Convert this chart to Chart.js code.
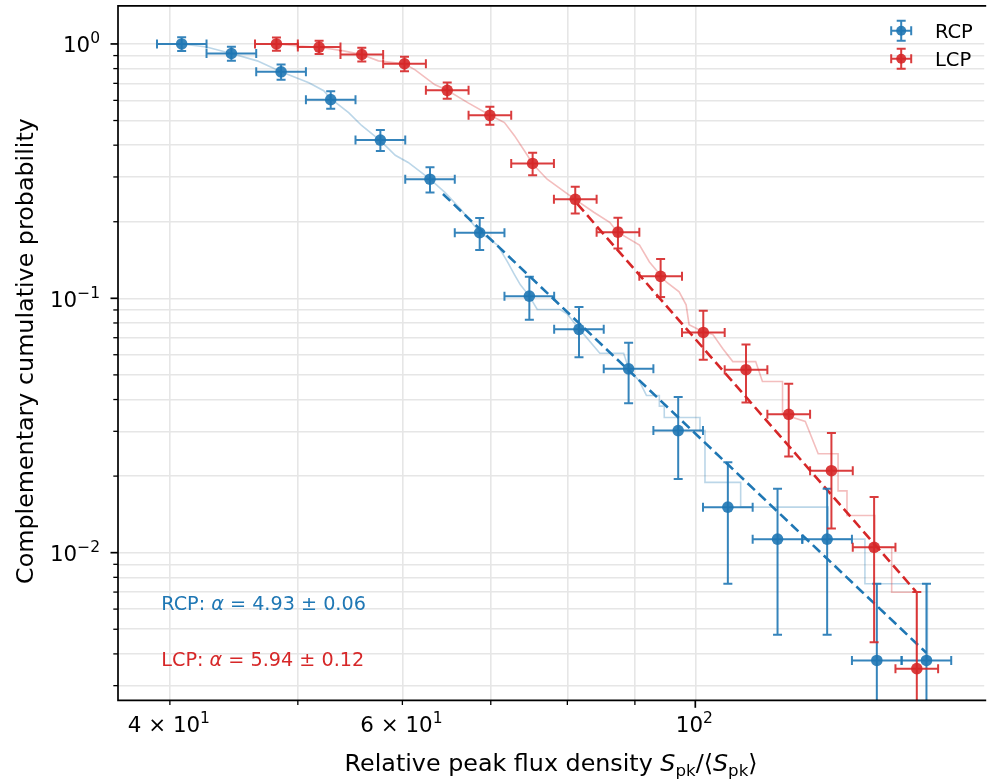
<!DOCTYPE html>
<html>
<head>
<meta charset="utf-8">
<script src="https://cdn.jsdelivr.net/npm/chart.js@4.4.1/dist/chart.umd.min.js"></script>
<style>
  html, body { margin: 0; padding: 0; background: #fff; overflow: hidden; }
  canvas { display: block; }
</style>
</head>
<body>
<canvas id="myChart"></canvas>
<script>
const FONT = 'DejaVu Sans';
const blue = 'rgba(31,119,180,0.9)';
const red = 'rgba(214,39,40,0.9)';

// axis limits
const xMin = 36.54, xMax = 165.5;
const yMin = 0.002628, yMax = 1.4125;

// tick positions and labels (base, exponent, optional mantissa)
const xTicks = [40, 50, 60, 70, 80, 90, 100];
const xLabelAt = [40, 60, 100];
const xLabelText = [['4 × 10', '1'], ['6 × 10', '1'], ['10', '2']];
const yTicks = [0.003, 0.004, 0.005, 0.006, 0.007, 0.008, 0.009,
                0.01, 0.02, 0.03, 0.04, 0.05, 0.06, 0.07, 0.08, 0.09,
                0.1, 0.2, 0.3, 0.4, 0.5, 0.6, 0.7, 0.8, 0.9, 1];
const yLabelAt = [1, 0.1, 0.01];
const yLabelText = [['10', '0'], ['10', '−1'], ['10', '−2']];

// RCP binned points
const rcpX = [40.83, 44.53, 48.56, 52.95, 57.74, 62.96, 68.66, 74.87, 81.64, 89.02, 97.06, 105.84, 115.42, 125.85, 137.24, 149.65];
const rcpEdges = [39.11, 42.64, 46.50, 50.71, 55.29, 60.30, 65.74, 71.69, 78.18, 85.24, 92.95, 101.35, 110.52, 120.51, 131.41, 143.30, 156.25];
const rcpY = [1.0, 0.917, 0.777, 0.604, 0.419, 0.294, 0.181, 0.102, 0.0755, 0.0528, 0.0302, 0.0151, 0.0113, 0.0113, 0.00377, 0.00377];
const rcpYErr = [0.0614, 0.0588, 0.0542, 0.0477, 0.0398, 0.0333, 0.0261, 0.0196, 0.0169, 0.0141, 0.0107, 0.00755, 0.00654, 0.00654, 0.00377, 0.00377];

// LCP binned points
const lcpX = [48.17, 51.89, 55.90, 60.22, 64.88, 69.89, 75.30, 81.11, 87.38, 94.13, 101.40, 109.24, 117.69, 126.79, 136.59, 147.15];
const lcpEdges = [46.40, 50.00, 53.86, 58.02, 62.51, 67.34, 72.54, 78.15, 84.19, 90.70, 97.71, 105.26, 113.39, 122.16, 131.60, 141.77, 152.72];
const lcpY = [1.0, 0.972, 0.909, 0.836, 0.657, 0.524, 0.339, 0.245, 0.182, 0.122, 0.0734, 0.0524, 0.0350, 0.0210, 0.0105, 0.0035];
const lcpYErr = [0.0591, 0.0583, 0.0564, 0.0541, 0.0479, 0.0428, 0.0344, 0.0293, 0.0252, 0.0207, 0.0160, 0.0135, 0.0111, 0.00856, 0.00606, 0.0035];

// empirical CCDF (light step lines)
const rcpStepX = [40.83, 42.64, 44.53, 46.58, 48.56, 50.97, 52.31, 52.95, 54.63, 55.88, 57.74, 59.26, 60.61, 62.96, 64.62, 66.43, 68.66, 70.83, 72.07, 72.95, 73.71, 74.87, 75.91, 78.99, 79.95, 81.64, 84.66, 88.25, 89.02, 90.73, 91.83, 93.92, 93.92, 94.73, 94.73, 100.82, 100.82, 101.70, 101.70, 108.23, 108.23, 126.07, 126.07, 134.42, 134.42, 149.90, 149.90];
const rcpStepY = [1.0, 0.973, 0.918, 0.858, 0.777, 0.704, 0.655, 0.609, 0.537, 0.478, 0.417, 0.365, 0.342, 0.294, 0.261, 0.224, 0.182, 0.162, 0.139, 0.124, 0.113, 0.102, 0.0904, 0.0904, 0.0870, 0.0760, 0.0608, 0.0608, 0.0530, 0.0471, 0.0415, 0.0415, 0.0377, 0.0377, 0.0340, 0.0340, 0.0302, 0.0302, 0.0189, 0.0189, 0.0151, 0.0151, 0.0113, 0.0113, 0.00755, 0.00755, 0.00377];
const lcpStepX = [48.17, 50.02, 51.95, 54.16, 55.88, 57.54, 60.19, 61.35, 63.51, 64.84, 67.24, 69.86, 71.69, 72.95, 74.61, 75.25, 77.23, 81.08, 83.78, 86.13, 87.34, 90.73, 92.31, 95.06, 97.22, 98.41, 98.92, 101.35, 103.12, 104.92, 106.76, 111.10, 112.42, 116.43, 116.43, 121.14, 123.90, 128.27, 128.27, 130.28, 130.28, 136.76, 136.76, 140.84, 140.84, 147.08, 147.08];
const lcpStepY = [1.0, 0.982, 0.971, 0.939, 0.908, 0.858, 0.835, 0.791, 0.691, 0.659, 0.588, 0.526, 0.491, 0.436, 0.365, 0.339, 0.294, 0.245, 0.218, 0.199, 0.182, 0.162, 0.139, 0.116, 0.106, 0.0943, 0.0788, 0.0739, 0.0720, 0.0634, 0.0564, 0.0564, 0.0471, 0.0471, 0.0350, 0.0328, 0.0245, 0.0245, 0.0175, 0.0175, 0.0140, 0.0140, 0.0105, 0.0105, 0.00699, 0.00699, 0.0035];

// power-law fits
const rcpFitX = [64.4, 149.6], rcpFitY = [0.257, 0.00404];
const lcpFitX = [81.4, 146.9], lcpFitY = [0.235, 0.00704];
const fitText = [['RCP: ', 'α', ' = 4.93 ± 0.06'], ['LCP: ', 'α', ' = 5.94 ± 0.12']];

const pts = (xs, ys) => xs.map((x, i) => ({x: x, y: ys[i]}));
const isPow10 = v => Math.abs(Math.log10(v) - Math.round(Math.log10(v))) < 1e-9;

// fill the window
const W = window.innerWidth || 990, H = window.innerHeight || 781;
const sx = W / 990, sy = H / 781;
const cvs = document.getElementById('myChart');
cvs.width = W; cvs.height = H;

// error bars drawn under each point dataset
const errorBars = {
    id: 'errorBars',
    beforeDatasetDraw(chart, args) {
        const ds = chart.data.datasets[args.index];
        if (!ds.yErr) return;
        const ctx = chart.ctx, a = chart.chartArea;
        const xs = chart.scales.x, ys = chart.scales.y;
        const cap = 4.5;
        ctx.save();
        ctx.beginPath();
        ctx.rect(a.left, a.top, a.right - a.left, a.bottom - a.top);
        ctx.clip();
        ctx.strokeStyle = ds.backgroundColor;
        ctx.lineWidth = 2;
        ds.data.forEach((p, i) => {
            const px = xs.getPixelForValue(p.x), py = ys.getPixelForValue(p.y);
            const x0 = xs.getPixelForValue(ds.xLo[i]), x1 = xs.getPixelForValue(ds.xHi[i]);
            const lo = p.y - ds.yErr[i];
            const y1 = ys.getPixelForValue(p.y + ds.yErr[i]);
            const y0 = lo > 1e-6 ? ys.getPixelForValue(lo) : a.bottom + 20;
            ctx.beginPath();
            ctx.moveTo(x0, py); ctx.lineTo(x1, py);
            ctx.moveTo(px, y0); ctx.lineTo(px, y1);
            ctx.moveTo(x0, py - cap); ctx.lineTo(x0, py + cap);
            ctx.moveTo(x1, py - cap); ctx.lineTo(x1, py + cap);
            ctx.moveTo(px - cap, y1); ctx.lineTo(px + cap, y1);
            if (lo > 1e-6) { ctx.moveTo(px - cap, y0); ctx.lineTo(px + cap, y0); }
            ctx.stroke();
        });
        ctx.restore();
    }
};

function drawSegs(ctx, segs, x, y) {
    segs.forEach(s => {
        ctx.font = s.f;
        ctx.fillText(s.t, x, y + (s.dy || 0));
        x += ctx.measureText(s.t).width;
    });
}
function segsWidth(ctx, segs) {
    let w = 0;
    segs.forEach(s => { ctx.font = s.f; w += ctx.measureText(s.t).width; });
    return w;
}
const TICK = 21.4, SUP = 15.5;
const powSegs = lab => [{t: lab[0], f: TICK + 'px ' + FONT}, {t: lab[1], f: SUP + 'px ' + FONT, dy: -9}];

// frame, tick marks and labels, axis titles, legend and fit labels
const decorations = {
    id: 'decorations',
    afterDraw(chart) {
        const ctx = chart.ctx, a = chart.chartArea;
        const xs = chart.scales.x, ys = chart.scales.y;
        ctx.save();
        ctx.strokeStyle = '#000';
        xs.ticks.forEach(t => {
            const px = xs.getPixelForValue(t.value), maj = isPow10(t.value);
            ctx.lineWidth = maj ? 1.7 : 1.3;
            ctx.beginPath(); ctx.moveTo(px, a.bottom); ctx.lineTo(px, a.bottom + (maj ? 7.5 : 4.7)); ctx.stroke();
        });
        ys.ticks.forEach(t => {
            const py = ys.getPixelForValue(t.value), maj = isPow10(t.value);
            ctx.lineWidth = maj ? 1.7 : 1.3;
            ctx.beginPath(); ctx.moveTo(a.left, py); ctx.lineTo(a.left - (maj ? 7.5 : 4.7), py); ctx.stroke();
        });
        // left, top and bottom spines (the right one sits past the picture edge)
        ctx.lineWidth = 1.7;
        ctx.beginPath();
        ctx.moveTo(a.right + 2, a.top); ctx.lineTo(a.left, a.top);
        ctx.lineTo(a.left, a.bottom); ctx.lineTo(a.right + 2, a.bottom);
        ctx.stroke();

        // tick labels with superscript exponents
        ctx.fillStyle = '#000';
        ctx.textBaseline = 'alphabetic';
        ctx.textAlign = 'left';
        xLabelAt.forEach((v, i) => {
            const segs = powSegs(xLabelText[i]);
            const px = xs.getPixelForValue(v);
            drawSegs(ctx, segs, px - segsWidth(ctx, segs) / 2 - 1, a.bottom + 32);
        });
        yLabelAt.forEach((v, i) => {
            const segs = powSegs(yLabelText[i]);
            const py = ys.getPixelForValue(v);
            drawSegs(ctx, segs, a.left - 18 - segsWidth(ctx, segs), py + 8.5);
        });

        // axis titles
        const L = 23.8, n = L + 'px ' + FONT, it = 'italic ' + L + 'px ' + FONT, sub = (L * 0.7) + 'px ' + FONT;
        const xt = [
            {t: 'Relative peak flux density ', f: n}, {t: 'S', f: it}, {t: 'pk', f: sub, dy: 5},
            {t: '/⟨', f: n}, {t: 'S', f: it}, {t: 'pk', f: sub, dy: 5}, {t: '⟩', f: n}
        ];
        const cx = (a.left + a.right) / 2;
        drawSegs(ctx, xt, cx - segsWidth(ctx, xt) / 2, a.bottom + 70.2);
        ctx.save();
        ctx.translate(33.3 * sx, (a.top + a.bottom) / 2 - 2);
        ctx.rotate(-Math.PI / 2);
        ctx.font = n;
        ctx.textAlign = 'center';
        ctx.fillText('Complementary cumulative probability', 0, 0);
        ctx.restore();

        // legend with error-bar glyphs
        const pointSets = chart.data.datasets.filter(d => d.yErr);
        pointSets.forEach((d, k) => {
            const gx = a.right - 83, gy = a.top + 25 + 28 * k;
            ctx.strokeStyle = d.backgroundColor;
            ctx.fillStyle = d.backgroundColor;
            ctx.lineWidth = 2;
            ctx.beginPath();
            ctx.moveTo(gx - 10, gy); ctx.lineTo(gx + 10, gy);
            ctx.moveTo(gx, gy - 10); ctx.lineTo(gx, gy + 10);
            ctx.moveTo(gx - 10, gy - 4.5); ctx.lineTo(gx - 10, gy + 4.5);
            ctx.moveTo(gx + 10, gy - 4.5); ctx.lineTo(gx + 10, gy + 4.5);
            ctx.moveTo(gx - 4.5, gy - 10); ctx.lineTo(gx + 4.5, gy - 10);
            ctx.moveTo(gx - 4.5, gy + 10); ctx.lineTo(gx + 4.5, gy + 10);
            ctx.stroke();
            ctx.beginPath(); ctx.arc(gx, gy, 5, 0, Math.PI * 2); ctx.fill();
            ctx.fillStyle = '#000';
            ctx.font = '19.5px ' + FONT;
            ctx.textAlign = 'left';
            ctx.fillText(d.label, a.right - 49.3, gy + 7.4);

            // fit annotation
            const fs = 19.2;
            const segs = [
                {t: fitText[k][0], f: fs + 'px ' + FONT},
                {t: fitText[k][1], f: 'italic ' + fs + 'px ' + FONT},
                {t: fitText[k][2], f: fs + 'px ' + FONT}
            ];
            ctx.fillStyle = k === 0 ? '#1f77b4' : '#d62728';
            drawSegs(ctx, segs, a.left + 0.05 * (a.right - a.left), a.bottom - (k === 0 ? 90.3 : 34.6));
        });
        ctx.restore();
    }
};

new Chart(cvs, {
    type: 'scatter',
    data: {
        datasets: [
            {
                type: 'line', label: 'rcp ccdf', data: pts(rcpStepX, rcpStepY),
                borderColor: 'rgba(31,119,180,0.3)', borderWidth: 1.6, pointRadius: 0, tension: 0, order: 6
            },
            {
                type: 'line', label: 'lcp ccdf', data: pts(lcpStepX, lcpStepY),
                borderColor: 'rgba(214,39,40,0.3)', borderWidth: 1.6, pointRadius: 0, tension: 0, order: 5
            },
            {
                type: 'line', label: 'rcp fit', data: pts(rcpFitX, rcpFitY),
                borderColor: '#1f77b4', borderWidth: 2.6, borderDash: [10, 5], pointRadius: 0, order: 4
            },
            {
                type: 'line', label: 'lcp fit', data: pts(lcpFitX, lcpFitY),
                borderColor: '#d62728', borderWidth: 2.6, borderDash: [10, 5], pointRadius: 0, order: 3
            },
            {
                label: 'RCP', data: pts(rcpX, rcpY),
                xLo: rcpEdges.slice(0, -1), xHi: rcpEdges.slice(1), yErr: rcpYErr,
                backgroundColor: blue, borderWidth: 0, pointRadius: 5.8, order: 2
            },
            {
                label: 'LCP', data: pts(lcpX, lcpY),
                xLo: lcpEdges.slice(0, -1), xHi: lcpEdges.slice(1), yErr: lcpYErr,
                backgroundColor: red, borderWidth: 0, pointRadius: 5.8, order: 1
            }
        ]
    },
    options: {
        responsive: false,
        animation: false,
        events: [],
        layout: { padding: { top: 2.7 * sy, right: 0, left: 0, bottom: 0 } },
        plugins: { legend: { display: false }, tooltip: { enabled: false } },
        scales: {
            x: {
                type: 'logarithmic', min: xMin, max: xMax, bounds: 'data',
                afterBuildTicks: s => { s.ticks = xTicks.map(v => ({value: v})); },
                afterFit: s => { s.height = 80.7 * sy; s.paddingLeft = 0; s.paddingRight = 0; },
                grid: { color: '#e6e6e6', lineWidth: 1.6, drawTicks: false },
                border: { display: false },
                ticks: { display: false, autoSkip: false, maxRotation: 0 }
            },
            y: {
                type: 'logarithmic', min: yMin, max: yMax, bounds: 'data',
                afterBuildTicks: s => { s.ticks = yTicks.map(v => ({value: v})); },
                afterFit: s => { s.width = 118 * sx; s.paddingTop = 0; s.paddingBottom = 0; },
                grid: { color: '#e6e6e6', lineWidth: 1.6, drawTicks: false },
                border: { display: false },
                ticks: { display: false, autoSkip: false }
            }
        }
    },
    plugins: [errorBars, decorations]
});
</script>
</body>
</html>
